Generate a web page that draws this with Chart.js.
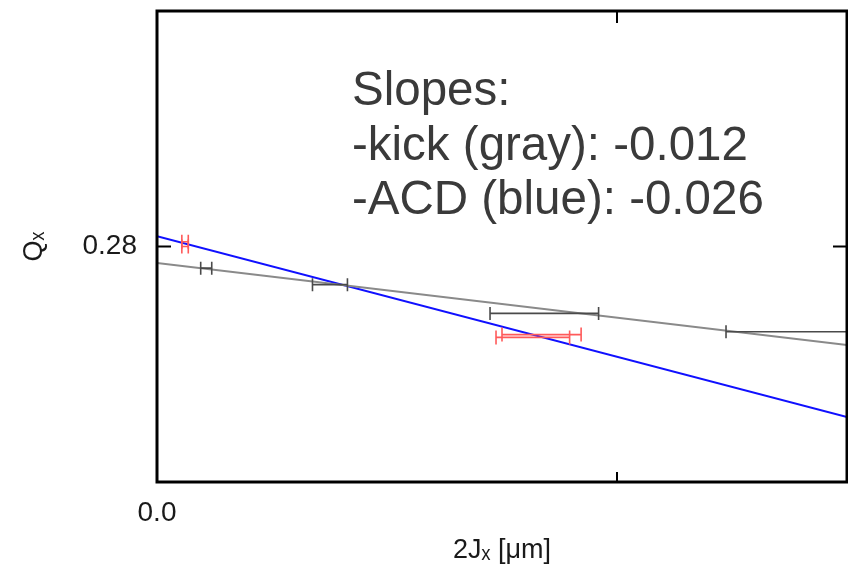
<!DOCTYPE html>
<html>
<head>
<meta charset="utf-8">
<title>Qx vs 2Jx</title>
<script src="https://cdn.jsdelivr.net/npm/chart.js@4.4.1/dist/chart.umd.min.js"></script>
<style>
  html, body { margin: 0; padding: 0; background: #fff; }
  #wrap { width: 848px; height: 569px; position: relative; }
</style>
</head>
<body>
<div id="wrap"><canvas id="chart"></canvas></div>
<script>
// axis ticks
const xTicks = [0, 0.1];
const xTickLabels = ['0.0', ''];
const yTicks = [0.28];
const yTickLabels = ['0.28'];

// kick measurements (gray) with horizontal error bars
const kickX = [0.0107, 0.0376, 0.0842, 0.160];
const kickXErr = [0.0012, 0.0038, 0.0118, 0.0363];
const kickQ = [0.27954, 0.27919, 0.27858, 0.27819];

// ACD measurements (red)
const acdX = [0.0061, 0.0061, 0.0817, 0.0836];
const acdXErr = [0.0007, 0.0007, 0.0080, 0.0086];
const acdQ = [0.28010, 0.28000, 0.27807, 0.27813];

// linear fits
const fitX = [0, 0.15];
const kickFitQ = [0.27965, 0.27791];
const acdFitQ = [0.28022, 0.27638];

const noteLines = ['Slopes:', '-kick (gray): -0.012', '-ACD (blue): -0.026'];

const FONT = "'Liberation Sans', Arial, Helvetica, sans-serif";

function pts(xs, ys) {
    return xs.map((x, i) => ({ x: x, y: ys[i] }));
}

// draws horizontal error bars, inward ticks, frame and the slope note
const extras = {
    id: 'extras',
    afterDatasetsDraw(chart) {
        const ctx = chart.ctx;
        const area = chart.chartArea;
        const xs = chart.scales.x, ys = chart.scales.y;
        ctx.save();
        ctx.beginPath();
        ctx.rect(area.left, area.top, area.right - area.left, area.bottom - area.top);
        ctx.clip();
        chart.data.datasets.forEach(ds => {
            if (!ds.xErr) return;
            ctx.strokeStyle = ds.barColor;
            ctx.lineWidth = 1.6;
            ds.data.forEach((p, i) => {
                const x0 = xs.getPixelForValue(p.x - ds.xErr[i]);
                const x1 = xs.getPixelForValue(p.x + ds.xErr[i]);
                const y = ys.getPixelForValue(p.y);
                const c = ds.capSize;
                ctx.beginPath();
                ctx.moveTo(x0, y); ctx.lineTo(x1, y);
                ctx.moveTo(x0, y - c); ctx.lineTo(x0, y + c);
                ctx.moveTo(x1, y - c); ctx.lineTo(x1, y + c);
                ctx.stroke();
            });
        });
        ctx.restore();
    },
    afterDraw(chart) {
        const ctx = chart.ctx;
        const a = chart.chartArea;
        const xs = chart.scales.x, ys = chart.scales.y;
        ctx.save();
        ctx.strokeStyle = '#000';
        ctx.lineWidth = 2;
        ctx.beginPath();
        xs.ticks.forEach(t => {
            const px = xs.getPixelForValue(t.value);
            if (px <= a.left + 2 || px >= a.right - 2) return;
            ctx.moveTo(px, a.bottom); ctx.lineTo(px, a.bottom - 10);
            ctx.moveTo(px, a.top); ctx.lineTo(px, a.top + 12);
        });
        ys.ticks.forEach(t => {
            const py = ys.getPixelForValue(t.value);
            ctx.moveTo(a.left, py); ctx.lineTo(a.left + 14, py);
            ctx.moveTo(a.right, py); ctx.lineTo(a.right - 14, py);
        });
        ctx.stroke();
        ctx.lineWidth = 3;
        ctx.strokeRect(a.left, a.top, a.right - a.left, a.bottom - a.top);

        ctx.fillStyle = '#3a3a3a';
        ctx.font = '47.5px ' + FONT;
        ctx.textAlign = 'left';
        ctx.textBaseline = 'alphabetic';
        noteLines.forEach((s, i) => ctx.fillText(s, 352, 105 + i * 54.5));
        ctx.restore();
    }
};

const ctx = document.getElementById('chart').getContext('2d');
const chart = new Chart(ctx, {
    type: 'scatter',
    data: {
        datasets: [
            {
                label: 'kick fit',
                data: pts(fitX, kickFitQ),
                showLine: true,
                borderColor: '#8a8a8a',
                borderWidth: 2,
                pointRadius: 0
            },
            {
                label: 'ACD fit',
                data: pts(fitX, acdFitQ),
                showLine: true,
                borderColor: '#1010ff',
                borderWidth: 2,
                pointRadius: 0
            },
            {
                label: 'kick',
                data: pts(kickX, kickQ),
                xErr: kickXErr,
                barColor: '#4a4a4a',
                capSize: 6.5,
                pointRadius: 0
            },
            {
                label: 'ACD',
                data: pts(acdX, acdQ),
                xErr: acdXErr,
                barColor: '#ff5a5a',
                capSize: 7,
                pointRadius: 0
            }
        ]
    },
    options: {
        responsive: true,
        maintainAspectRatio: false,
        animation: false,
        layout: { padding: { top: 11, right: 1, bottom: 0, left: 0 } },
        plugins: {
            legend: { display: false },
            tooltip: { enabled: false }
        },
        scales: {
            x: {
                type: 'linear',
                min: 0,
                max: 0.15,
                grid: { display: false, drawTicks: false },
                border: { display: false },
                afterBuildTicks: s => { s.ticks = xTicks.map(v => ({ value: v })); },
                afterFit: s => { s.height = 87; s.paddingLeft = 0; s.paddingRight = 0; },
                ticks: {
                    autoSkip: false,
                    maxRotation: 0,
                    padding: 14,
                    color: '#1a1a1a',
                    font: { family: FONT, size: 28 },
                    callback: (v, i) => xTickLabels[i]
                },
                title: {
                    display: true,
                    text: '2Jₓ [μm]',
                    color: '#1a1a1a',
                    font: { family: FONT, size: 27 },
                    padding: { top: 0, bottom: 2 }
                }
            },
            y: {
                type: 'linear',
                min: 0.275,
                max: 0.285,
                grid: { display: false, drawTicks: false },
                border: { display: false },
                afterBuildTicks: s => { s.ticks = yTicks.map(v => ({ value: v })); },
                afterFit: s => { s.width = 157; s.paddingTop = 0; s.paddingBottom = 0; },
                ticks: {
                    autoSkip: false,
                    padding: 20,
                    color: '#1a1a1a',
                    font: { family: FONT, size: 28 },
                    callback: (v, i) => yTickLabels[i]
                },
                title: {
                    display: true,
                    text: 'Qₓ',
                    color: '#1a1a1a',
                    font: { family: FONT, size: 27 },
                    padding: { top: 18, bottom: 0 }
                }
            }
        }
    },
    plugins: [extras]
});
</script>
</body>
</html>
